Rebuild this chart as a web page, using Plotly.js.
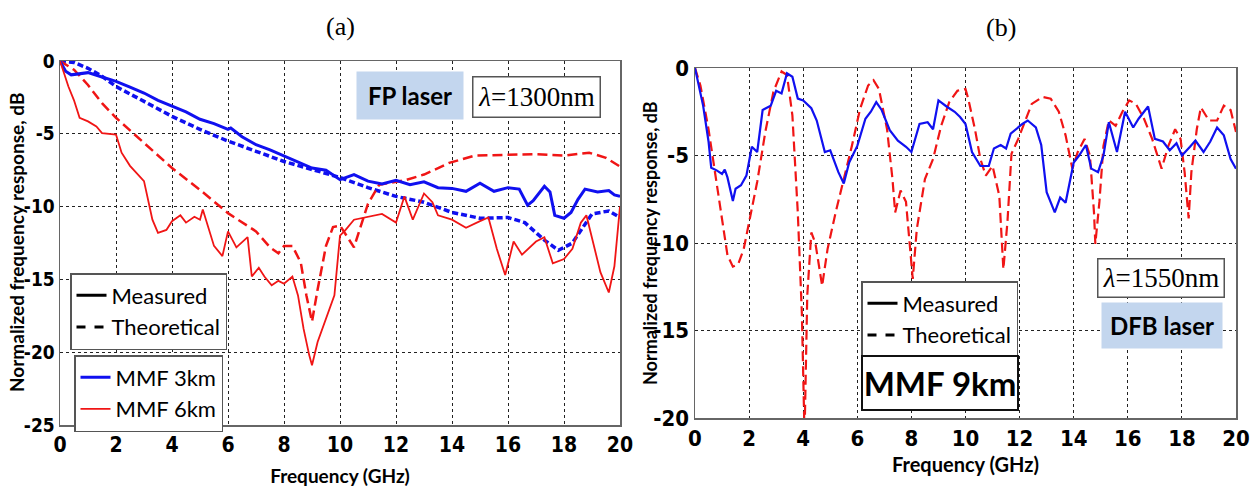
<!DOCTYPE html>
<html>
<head>
<meta charset="utf-8">
<script src="https://cdn.plot.ly/plotly-3.0.1.min.js"></script>
<style>html,body{margin:0;padding:0;background:#fff;}#chart{width:1255px;height:492px;}</style>
</head>
<body>
<div id="chart"></div>
<script>
// ---------- Panel (a): FP laser, 1300 nm ----------
const aBlueMeasured = [[0,0],[0.2,-0.7],[0.4,-0.95],[0.7,-0.85],[1.0,-0.8],[1.5,-1.1],[2.0,-1.4],[2.5,-1.8],[3.0,-2.2],[3.5,-2.7],[4.0,-3.1],[4.5,-3.5],[5.0,-4.0],[5.5,-4.3],[6.0,-4.7],[6.1,-4.6],[6.5,-5.2],[7.0,-5.75],[7.5,-6.1],[8.0,-6.5],[8.5,-6.9],[9.0,-7.35],[9.5,-7.5],[10.0,-8.15],[10.5,-7.8],[11.0,-8.25],[11.5,-8.45],[12.0,-8.2],[12.5,-8.5],[13.0,-8.3],[13.5,-8.7],[14.0,-8.75],[14.5,-8.95],[15.0,-8.4],[15.5,-8.95],[16.0,-8.7],[16.4,-8.8],[16.7,-9.9],[16.9,-9.6],[17.3,-8.6],[17.5,-9.0],[17.67,-10.6],[18.0,-10.8],[18.25,-10.4],[18.5,-9.5],[18.75,-8.8],[19.2,-9.0],[19.6,-8.9],[19.8,-9.2],[20.0,-9.3]];
const aBlueTheory = [[0,0],[0.5,-0.1],[1,-0.5],[1.5,-1.05],[2,-1.75],[3,-2.8],[4,-3.8],[5,-4.7],[6,-5.5],[7,-6.2],[8,-6.9],[9,-7.45],[10,-8.0],[11,-8.7],[12,-9.3],[13,-9.7],[14,-10.4],[15,-10.8],[16,-10.75],[16.6,-11.1],[17.3,-12.3],[17.8,-13.0],[18.3,-12.5],[19.0,-10.5],[19.6,-10.3],[20,-10.75]];
const aRedMeasured = [[0,0],[0.3,-1.75],[0.5,-2.7],[0.7,-3.9],[1.0,-4.15],[1.3,-4.5],[1.5,-4.95],[2.0,-5.05],[2.2,-6.3],[2.5,-7.2],[3.0,-8.25],[3.3,-10.9],[3.5,-11.8],[3.8,-11.6],[4.0,-11.0],[4.3,-10.6],[4.5,-11.1],[4.8,-10.7],[5.0,-10.9],[5.1,-10.2],[5.5,-12.7],[5.8,-13.4],[6.0,-11.7],[6.3,-12.8],[6.7,-12.1],[6.85,-14.8],[7.1,-14.2],[7.3,-14.8],[7.56,-15.4],[7.8,-15.1],[8.0,-15.3],[8.3,-14.8],[8.5,-16.1],[8.7,-18.4],[8.9,-20.2],[9.0,-20.9],[9.2,-19.3],[9.5,-17.7],[9.8,-16.1],[10.0,-12.0],[10.2,-11.6],[10.5,-10.9],[11.0,-10.7],[11.5,-10.5],[12.0,-11.1],[12.3,-9.3],[12.6,-10.9],[13.0,-9.1],[13.3,-9.7],[13.5,-10.6],[14.0,-10.9],[14.5,-11.45],[15.0,-11.0],[15.3,-10.75],[15.6,-12.9],[15.9,-14.7],[16.2,-12.4],[16.5,-13.3],[17.0,-12.4],[17.3,-12.1],[17.6,-13.9],[18.0,-13.6],[18.3,-12.9],[18.6,-11.1],[18.8,-10.6],[19.0,-12.25],[19.3,-14.5],[19.6,-15.9],[19.8,-14.1],[20.0,-10.0]];
const aRedTheory = [[0,0],[0.5,-0.6],[1,-1.65],[1.5,-2.9],[2,-3.9],[3,-5.65],[4,-7.35],[5,-8.85],[6,-10.45],[7,-11.7],[7.5,-12.8],[7.8,-13.2],[8.0,-12.7],[8.3,-12.7],[8.6,-13.85],[8.8,-16.1],[9.0,-17.9],[9.2,-15.7],[9.5,-12.7],[9.75,-11.4],[10.0,-11.3],[10.5,-12.8],[11.0,-9.8],[11.4,-8.5],[12.3,-8.2],[13.0,-7.8],[13.9,-7.0],[14.8,-6.5],[16.0,-6.45],[17.0,-6.4],[18.0,-6.5],[18.9,-6.3],[19.5,-6.65],[20,-7.25]];

// ---------- Panel (b): DFB laser, 1550 nm, MMF 9 km ----------
const bBlueMeasured = [[0,0],[0.3,-2.15],[0.5,-4.2],[0.6,-5.7],[0.8,-5.85],[1.0,-6.05],[1.1,-5.8],[1.2,-6.25],[1.4,-7.6],[1.5,-6.9],[1.7,-6.7],[1.9,-6.15],[2.1,-4.5],[2.3,-4.8],[2.5,-2.4],[2.8,-2.15],[3.0,-1.3],[3.2,-1.45],[3.4,-0.3],[3.6,-0.5],[3.8,-1.75],[4.0,-1.85],[4.3,-2.3],[4.5,-3.0],[4.8,-4.8],[5.0,-4.7],[5.3,-5.95],[5.5,-6.6],[5.7,-5.4],[6.0,-4.45],[6.3,-2.9],[6.5,-2.5],[6.7,-1.95],[6.9,-2.4],[7.2,-3.55],[7.5,-4.15],[7.8,-4.5],[8.0,-4.8],[8.3,-3.2],[8.6,-3.1],[8.8,-3.5],[9.0,-1.85],[9.3,-2.2],[9.6,-2.5],[9.8,-2.8],[10.0,-3.2],[10.24,-4.8],[10.55,-5.6],[10.86,-5.6],[11.05,-4.6],[11.3,-4.4],[11.5,-4.6],[11.67,-3.75],[11.9,-3.45],[12.1,-3.2],[12.3,-3.0],[12.6,-3.4],[12.8,-4.4],[13.0,-7.1],[13.3,-8.25],[13.5,-7.4],[13.7,-7.7],[14.0,-5.4],[14.2,-5.0],[14.45,-4.4],[14.65,-5.75],[14.9,-5.95],[15.1,-5.0],[15.3,-3.1],[15.6,-4.8],[15.9,-2.5],[16.2,-3.4],[16.4,-2.9],[16.75,-2.2],[17.0,-4.05],[17.3,-4.2],[17.55,-4.7],[17.8,-4.3],[18.0,-5.0],[18.3,-4.5],[18.5,-4.15],[18.8,-4.8],[19.05,-4.2],[19.3,-3.4],[19.55,-3.85],[19.8,-5.2],[20.0,-5.75]];
const bRedTheory = [[0,0],[0.2,-1.0],[0.5,-3.5],[0.8,-6.5],[1.0,-8.6],[1.2,-10.7],[1.4,-11.35],[1.6,-11.2],[1.8,-10.35],[2.0,-8.8],[2.3,-6.5],[2.6,-3.65],[2.9,-1.35],[3.2,-0.2],[3.4,-0.4],[3.6,-2.7],[3.8,-8.25],[3.95,-14],[4.05,-21],[4.15,-13],[4.3,-9.4],[4.45,-10.0],[4.7,-12.45],[4.9,-10.35],[5.2,-8.25],[5.5,-6.35],[5.8,-4.45],[6.1,-2.35],[6.4,-1.0],[6.6,-0.7],[6.8,-1.2],[7.1,-3.5],[7.3,-6.35],[7.4,-8.25],[7.6,-7.0],[7.8,-7.65],[8.0,-11.1],[8.05,-12.05],[8.2,-9.2],[8.5,-6.35],[8.8,-5.2],[9.1,-3.3],[9.4,-1.95],[9.7,-1.3],[10.0,-1.2],[10.1,-1.75],[10.35,-3.5],[10.55,-5.2],[10.75,-6.15],[11.0,-5.6],[11.25,-7.3],[11.4,-11.5],[11.55,-8.8],[11.7,-4.9],[11.95,-4.05],[12.2,-3.1],[12.45,-2.05],[12.85,-1.65],[13.15,-1.75],[13.45,-2.5],[13.7,-3.85],[13.95,-5.75],[14.15,-4.8],[14.4,-4.05],[14.6,-5.0],[14.75,-8.25],[14.8,-10.05],[14.95,-7.65],[15.1,-4.45],[15.3,-3.0],[15.55,-3.3],[15.8,-2.5],[16.05,-1.85],[16.3,-2.05],[16.6,-2.9],[16.9,-4.05],[17.25,-5.75],[17.5,-4.45],[17.75,-3.5],[17.95,-4.05],[18.1,-5.95],[18.25,-8.6],[18.35,-5.95],[18.55,-3.5],[18.7,-2.25],[19.0,-3.0],[19.3,-3.0],[19.55,-2.15],[19.8,-2.4],[20.0,-3.65]];

// ---------- Ticks and titles ----------
const xTicks = [0,2,4,6,8,10,12,14,16,18,20];
const yTicksA = [0,-5,-10,-15,-20,-25];
const yTickTextA = ['0','-5','-10','-15','-20','-25'];
const yTicksB = [0,-5,-10,-15,-20];
const yTickTextB = ['0','-5','-10','-15','-20'];
const yTitle = 'Normalized frequency response, dB';
const xTitle = 'Frequency (GHz)';

const xs = s => s.map(p => p[0]);
const ys = s => s.map(p => p[1]);

const BLUE = '#1010f0', RED = '#f01515';

const traces = [
  {x: xs(aBlueTheory), y: ys(aBlueTheory), mode:'lines', line:{color:BLUE, width:3.5, dash:'6px,3px'}, showlegend:false, xaxis:'x', yaxis:'y', name:'MMF 3km theoretical'},
  {x: xs(aRedTheory), y: ys(aRedTheory), mode:'lines', line:{color:RED, width:2.5, dash:'10px,5px'}, showlegend:false, xaxis:'x', yaxis:'y', name:'MMF 6km theoretical'},
  {x: xs(aBlueMeasured), y: ys(aBlueMeasured), mode:'lines', line:{color:BLUE, width:3}, name:'MMF 3km', legend:'legend2', xaxis:'x', yaxis:'y'},
  {x: xs(aRedMeasured), y: ys(aRedMeasured), mode:'lines', line:{color:RED, width:1.8}, name:'MMF 6km', legend:'legend2', xaxis:'x', yaxis:'y'},
  {x:[null], y:[null], mode:'lines', line:{color:'black', width:3}, name:'Measured', legend:'legend', xaxis:'x', yaxis:'y'},
  {x:[null], y:[null], mode:'lines', line:{color:'black', width:3, dash:'dash'}, name:'Theoretical', legend:'legend', xaxis:'x', yaxis:'y'},
  {x: xs(bRedTheory), y: ys(bRedTheory), mode:'lines', line:{color:RED, width:2.2, dash:'10px,5px'}, showlegend:false, xaxis:'x2', yaxis:'y2', name:'MMF 9km theoretical'},
  {x: xs(bBlueMeasured), y: ys(bBlueMeasured), mode:'lines', line:{color:BLUE, width:2.2}, showlegend:false, xaxis:'x2', yaxis:'y2', name:'MMF 9km measured'},
  {x:[null], y:[null], mode:'lines', line:{color:'black', width:3}, name:'Measured', legend:'legend3', xaxis:'x2', yaxis:'y2'},
  {x:[null], y:[null], mode:'lines', line:{color:'black', width:3, dash:'dash'}, name:'Theoretical', legend:'legend3', xaxis:'x2', yaxis:'y2'}
];

const W = 1255, H = 492;
const px = v => v / W, py = v => 1 - v / H;
const NARROW = "'Liberation Sans Narrow', 'Arial Narrow', 'DejaVu Sans Condensed', sans-serif";
const SANS = "Lato, 'Open Sans', sans-serif";
const SERIF = "'Liberation Serif', 'Times New Roman', serif";

const axisCommon = {
  showgrid:true, gridcolor:'#222', griddash:'dot', gridwidth:1,
  showline:true, linecolor:'#666', linewidth:1.5, mirror:true,
  zeroline:false, ticks:'', fixedrange:true
};

const legendCommon = {
  xanchor:'left', yanchor:'top', bgcolor:'white', bordercolor:'#555', borderwidth:1.5,
  font:{family:SANS, size:22, color:'black'}, itemwidth:30, traceorder:'normal'
};

const layout = {
  width:W, height:H, paper_bgcolor:'white', plot_bgcolor:'white',
  margin:{l:0, r:0, t:0, b:0},
  xaxis: Object.assign({}, axisCommon, {domain:[px(60), px(620)], range:[0,20], tickvals:xTicks, anchor:'y',
    tickfont:{family:NARROW, size:21, weight:'bold', color:'black'},
    title:{text:xTitle, font:{family:SANS, size:19, weight:'bold', color:'black'}, standoff:14}}),
  yaxis: Object.assign({}, axisCommon, {domain:[py(425), py(61)], range:[-25,0], tickvals:yTicksA, ticktext:yTickTextA, anchor:'x',
    tickfont:{family:NARROW, size:19, weight:'bold', color:'black'}}),
  xaxis2: Object.assign({}, axisCommon, {domain:[px(695), px(1236)], range:[0,20], tickvals:xTicks, anchor:'y2',
    tickfont:{family:NARROW, size:22, weight:'bold', color:'black'},
    title:{text:xTitle, font:{family:SANS, size:20, weight:'bold', color:'black'}, standoff:8}}),
  yaxis2: Object.assign({}, axisCommon, {domain:[py(418), py(68)], range:[-20,0], tickvals:yTicksB, ticktext:yTickTextB, anchor:'x2',
    tickfont:{family:NARROW, size:22, weight:'bold', color:'black'}}),
  legend: Object.assign({}, legendCommon, {x:px(70), y:py(273)}),
  legend2: Object.assign({}, legendCommon, {x:px(74), y:py(355)}),
  legend3: Object.assign({}, legendCommon, {x:px(861), y:py(281)}),
  annotations: [
    {text:'<b>' + yTitle + '</b>', xref:'paper', yref:'paper', x:px(16), y:py(243), xanchor:'center', yanchor:'middle', textangle:-90, showarrow:false, font:{family:SANS, size:19, color:'black'}},
    {text:'<b>' + yTitle + '</b>', xref:'paper', yref:'paper', x:px(650), y:py(243), xanchor:'center', yanchor:'middle', textangle:-90, showarrow:false, font:{family:SANS, size:18, color:'black'}},
    {text:'(a)', xref:'paper', yref:'paper', x:px(340), y:py(26), xanchor:'center', yanchor:'middle', showarrow:false, font:{family:SERIF, size:26, color:'black'}},
    {text:'(b)', xref:'paper', yref:'paper', x:px(1001), y:py(28), xanchor:'center', yanchor:'middle', showarrow:false, font:{family:SERIF, size:26, color:'black'}},
    {text:'<b>FP laser</b>', xref:'paper', yref:'paper', x:px(410), y:py(95), xanchor:'center', yanchor:'middle', showarrow:false, width:106, height:47, borderpad:0, bgcolor:'#c3d6ee', font:{family:SANS, size:24, color:'black'}},
    {text:'<i>λ</i>=1300nm', xref:'paper', yref:'paper', x:px(536), y:py(97), xanchor:'center', yanchor:'middle', showarrow:false, width:126, height:39, borderpad:0, bgcolor:'white', bordercolor:'#555', borderwidth:1.5, font:{family:SERIF, size:27, color:'black'}},
    {text:'<i>λ</i>=1550nm', xref:'paper', yref:'paper', x:px(1161), y:py(278), xanchor:'center', yanchor:'middle', showarrow:false, width:125, height:37, borderpad:0, bgcolor:'white', bordercolor:'#555', borderwidth:1.5, font:{family:SERIF, size:27, color:'black'}},
    {text:'<b>DFB laser</b>', xref:'paper', yref:'paper', x:px(1162), y:py(325), xanchor:'center', yanchor:'middle', showarrow:false, width:120, height:45, borderpad:0, bgcolor:'#c3d6ee', font:{family:SANS, size:24, color:'black'}},
    {text:'<b>MMF 9km</b>', xref:'paper', yref:'paper', x:px(940), y:py(383), xanchor:'center', yanchor:'middle', showarrow:false, width:154, height:52, borderpad:0, bgcolor:'white', bordercolor:'#111', borderwidth:2, font:{family:SANS, size:33, color:'black'}}
  ]
};

Plotly.newPlot('chart', traces, layout, {displayModeBar:false, staticPlot:true});
</script>
</body>
</html>
